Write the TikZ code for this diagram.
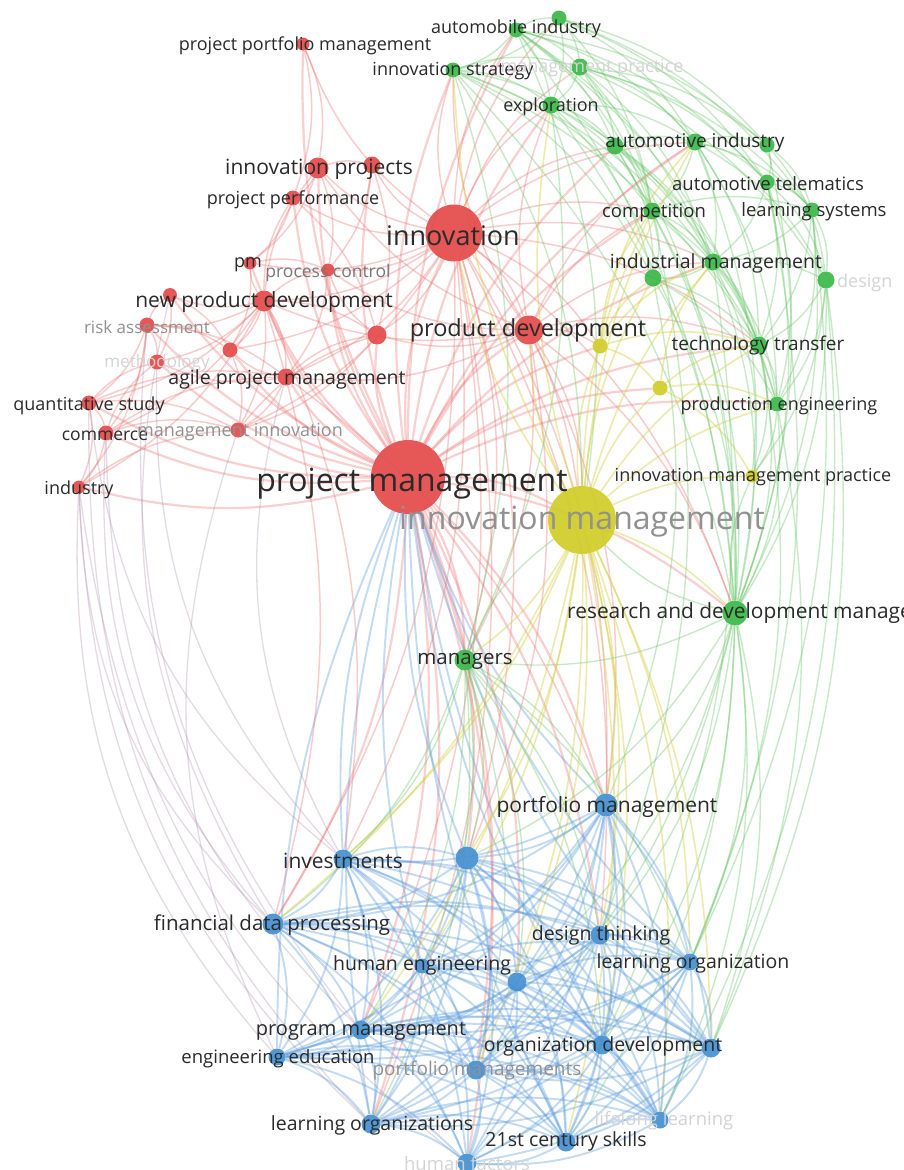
\documentclass[tikz,border=0pt]{standalone}
\usepackage{fontspec}
\setmainfont{Open Sans}
\pgfdeclarelayer{links}
\pgfsetlayers{links,main}
\definecolor{nred}{RGB}{228,74,74}
\definecolor{ngreen}{RGB}{58,184,72}
\definecolor{nyellow}{RGB}{208,204,40}
\definecolor{nblue}{RGB}{68,144,210}
\definecolor{lred}{RGB}{238,110,110}
\definecolor{lgreen}{RGB}{100,196,100}
\definecolor{lyellow}{RGB}{212,206,60}
\definecolor{lblue}{RGB}{95,158,222}
\definecolor{txt}{RGB}{42,42,42}
\definecolor{txtmid}{RGB}{120,120,120}
\definecolor{txtdim}{RGB}{145,145,145}
\definecolor{txtghost}{RGB}{212,212,212}
\newcommand\sz[1]{\fontsize{#1}{#1}\selectfont}
\begin{document}
\begin{tikzpicture}[x=1pt,y=-1pt,
  ball/.style={circle,inner sep=0pt,draw=none,fill opacity=0.92},
  rball/.style={ball,fill=nred},
  gball/.style={ball,fill=ngreen},
  yball/.style={ball,fill=nyellow},
  bball/.style={ball,fill=nblue},
  lab/.style={inner sep=0pt,text=txt,yshift=-1.5pt},
  midlab/.style={lab,text=txtmid},
  dimlab/.style={lab,text=txtdim},
  ghostlab/.style={lab,text=txtghost},
  hublink/.style={draw=lred,line width=2.2pt,opacity=0.33},
  redlink/.style={draw=lred,line width=1.5pt,opacity=0.35},
  greenlink/.style={draw=lgreen,line width=1.4pt,opacity=0.36},
  yellowlink/.style={draw=lyellow,line width=1.6pt,opacity=0.42},
  bluelink/.style={draw=lblue,line width=1.9pt,opacity=0.38},
  mixlink/.style={draw=lblue!50!lred,line width=1.3pt,opacity=0.3}]
\useasboundingbox (0,0) rectangle (903,1170);
\clip (0,0) rectangle (903,1170);

% ---------- red cluster ----------
\node[rball,minimum size=13pt] (ppm) at (303,44) {};
\node[rball,minimum size=21pt] (ipj) at (318,168) {};
\node[rball,minimum size=17pt] (r1) at (372,165) {};
\node[rball,minimum size=15pt] (pper) at (293,198) {};
\node[rball,minimum size=57pt] (inn) at (454,233) {};
\node[rball,minimum size=13pt] (pmm) at (250,263) {};
\node[rball,minimum size=13pt] (pc) at (328,270) {};
\node[rball,minimum size=14pt] (r2) at (170,295) {};
\node[rball,minimum size=21pt] (npd) at (264,301) {};
\node[rball,minimum size=15pt] (ra) at (147,325) {};
\node[rball,minimum size=15pt] (r3) at (230,350) {};
\node[rball,minimum size=15pt] (meth) at (157,362) {};
\node[rball,minimum size=19pt] (r4) at (377,335) {};
\node[rball,minimum size=29pt] (pd) at (529,330) {};
\node[rball,minimum size=17pt] (apm) at (286,377) {};
\node[rball,minimum size=15pt] (qs) at (89,403) {};
\node[rball,minimum size=15pt] (com) at (106,433) {};
\node[rball,minimum size=15pt] (mi) at (238,430) {};
\node[rball,minimum size=13pt] (ind) at (79,487) {};
\node[rball,minimum size=74pt] (prm) at (408,477) {};

% ---------- green cluster ----------
\node[gball,minimum size=15pt] (ami) at (516,30) {};
\node[gball,minimum size=15pt] (g1) at (559,18) {};
\node[gball,minimum size=15pt] (ist) at (453,70) {};
\node[gball,minimum size=17pt] (mp) at (580,67) {};
\node[gball,minimum size=17pt] (exp) at (551,105) {};
\node[gball,minimum size=17pt] (g2) at (615,146) {};
\node[gball,minimum size=17pt] (ain) at (695,142) {};
\node[gball,minimum size=15pt] (g3) at (767,145) {};
\node[gball,minimum size=15pt] (ate) at (767,182) {};
\node[gball,minimum size=17pt] (cmp) at (652,211) {};
\node[gball,minimum size=15pt] (lsy) at (812,210) {};
\node[gball,minimum size=17pt] (inm) at (713,262) {};
\node[gball,minimum size=17pt] (g4) at (653,278) {};
\node[gball,minimum size=17pt] (dsg) at (826,280) {};
\node[gball,minimum size=17pt] (ttr) at (759,345) {};
\node[gball,minimum size=15pt] (pen) at (777,404) {};
\node[gball,minimum size=25pt] (rdm) at (735,613) {};
\node[gball,minimum size=21pt] (mgr) at (465,660) {};

% ---------- yellow cluster ----------
\node[yball,minimum size=68pt] (ima) at (582,520) {};
\node[yball,minimum size=15pt] (y1) at (600,346) {};
\node[yball,minimum size=15pt] (y2) at (660,388) {};
\node[yball,minimum size=13pt] (imp) at (752,476) {};

% ---------- blue cluster ----------
\node[bball,minimum size=23pt] (pfm) at (606,805) {};
\node[bball,minimum size=19pt] (inv) at (343,859) {};
\node[bball,minimum size=23pt] (b1) at (467,858) {};
\node[bball,minimum size=21pt] (fdp) at (273,924) {};
\node[bball,minimum size=19pt] (dth) at (600,935) {};
\node[bball,minimum size=15pt] (heng) at (422,966) {};
\node[bball,minimum size=19pt] (b2) at (517,982) {};
\node[bball,minimum size=17pt] (lor) at (690,962) {};
\node[bball,minimum size=19pt] (pgm) at (361,1030) {};
\node[bball,minimum size=17pt] (ede) at (277,1057) {};
\node[bball,minimum size=19pt] (odv) at (602,1045) {};
\node[bball,minimum size=19pt] (b3) at (711,1048) {};
\node[bball,minimum size=19pt] (pfms) at (476,1070) {};
\node[bball,minimum size=19pt] (lors) at (371,1124) {};
\node[bball,minimum size=19pt] (c21) at (566,1142) {};
\node[bball,minimum size=17pt] (lll) at (660,1120) {};
\node[bball,minimum size=19pt] (hfa) at (467,1163) {};

% ---------- links ----------
\begin{pgfonlayer}{links}
\fill[white] (0,0) rectangle (903,1170);
\clip (0,0) rectangle (903,1170);
\foreach \b in {ppm,ipj,r1,pper,inn,pmm,pc,r2,npd,ra,r3,meth,r4,pd,apm,qs,com,mi,ind,
  ima,mgr,rdm,pfm,b1,fdp,dth,b2,pgm,pfms,lors,hfa,
  ist,ami,exp,cmp,inm,ttr,y1,y2,g2,ain,pen}
  \draw[hublink] (prm) to[bend left=14] (\b);
% project management towards the lower group
\foreach \b in {inv,heng,lor,ede,odv,c21,lll,b3,pfm,b1,lors}
  \draw[bluelink] (\b) to[bend left=12] (prm);
\foreach \b in {ipj,r1,pper,pmm,pc,npd,r3,r4,pd,apm,mi,ist,ami,exp,g2,ain,cmp,inm,
  ttr,y1,ima,mgr,rdm,pfm,b1,dth,ppm,inv,fdp,pgm,lors,g1,mp}
  \draw[redlink] (inn) to[bend left=16] (\b);
\foreach \a/\b in {pd/npd,pd/r4,pd/apm,pd/ipj,pd/pc,pd/ain,pd/inm,pd/ima,pd/ttr,
  pd/mgr,pd/rdm,pd/y1,pd/cmp,pd/ist,pd/pfm,pd/b1,pd/exp,
  npd/ra,npd/pmm,npd/pc,npd/r2,npd/r3,npd/meth,npd/apm,npd/qs,npd/com,npd/mi,
  npd/ipj,npd/pper,npd/ind,npd/inv,npd/fdp,npd/r4,
  ra/meth,ra/qs,ra/com,ra/r2,ra/apm,ra/ind,ra/r3,
  qs/com,qs/ind,qs/meth,qs/mi,qs/apm,com/ind,com/mi,com/apm,com/meth,ind/mi,
  ppm/ipj,ppm/pper,ipj/pper,ipj/r1,ipj/pmm,ipj/pc,r1/pc,r1/r4,pper/pmm,pper/r4,
  apm/mi,apm/r3,apm/meth,apm/r4,apm/pfm,r2/meth,r2/r3,r3/mi,r4/pc,r4/mi,
  pmm/pc,pmm/r3,pc/apm,mi/r4}
  \draw[redlink] (\a) to[bend left=16] (\b);
% long arcs down the left side
\foreach \a/\b in {ind/lors,ind/ede,ind/fdp,ind/hfa,com/fdp,com/pgm,qs/inv,qs/lors,
  ra/pgm,meth/inv,r2/fdp,mi/ede,apm/inv}
  \draw[mixlink] (\a) to[bend right=22] (\b);
\foreach \a/\b in {ami/g1,ami/ist,ami/mp,ami/exp,ami/g2,ami/ain,ami/cmp,ami/inm,
  ami/ttr,ami/ate,ami/g3,ami/ima,ami/rdm,
  g1/ist,g1/mp,g1/exp,g1/ain,g1/g3,g1/ate,g1/lsy,g1/cmp,
  ist/mp,ist/exp,ist/g2,ist/cmp,ist/inm,ist/g4,ist/ttr,ist/mgr,ist/ima,ist/rdm,
  mp/exp,mp/g2,mp/ain,mp/g3,mp/ate,mp/lsy,mp/cmp,mp/inm,mp/dsg,mp/rdm,
  exp/g2,exp/ain,exp/cmp,exp/inm,exp/g4,exp/rdm,
  g2/ain,g2/cmp,g2/inm,g2/g4,g2/ttr,g2/pen,g2/rdm,
  ain/g3,ain/ate,ain/cmp,ain/lsy,ain/inm,ain/dsg,ain/ttr,ain/pen,ain/rdm,
  g3/ate,g3/lsy,g3/dsg,g3/rdm,
  ate/lsy,ate/inm,ate/dsg,ate/ttr,ate/rdm,ate/pen,
  cmp/inm,cmp/g4,cmp/ttr,cmp/pen,cmp/rdm,cmp/lsy,
  lsy/dsg,lsy/inm,lsy/ttr,lsy/rdm,lsy/pen,
  inm/g4,inm/dsg,inm/ttr,inm/pen,inm/rdm,inm/imp,
  g4/ttr,g4/pen,g4/rdm,dsg/ttr,dsg/pen,dsg/rdm,dsg/imp,
  ttr/pen,ttr/rdm,ttr/imp,pen/rdm,pen/imp,
  rdm/mgr,rdm/pfm,rdm/b1,rdm/dth,rdm/lor,rdm/odv,rdm/b3,rdm/lll,rdm/c21,rdm/b2,
  rdm/imp,rdm/ima,rdm/pfms,
  mgr/pfm,mgr/inv,mgr/b1,mgr/fdp,mgr/dth,mgr/heng,mgr/b2,mgr/pgm,mgr/odv,mgr/lors,
  mgr/ima,mgr/lor,mgr/pfms,
  lsy/lor,dsg/b3,ate/lor,dsg/lll,pen/b3,ttr/lor,inm/odv,cmp/dth,g4/pfm,exp/mgr}
  \draw[greenlink] (\a) to[bend left=16] (\b);
\foreach \b in {y1,y2,imp,pd,inn,pfm,b1,dth,lor,odv,b3,c21,lll,mgr,rdm,ttr,pen,inm,
  cmp,ain,exp,ist,b2,heng,inv,fdp,pgm,g4,pfms}
  \draw[yellowlink] (ima) to[bend left=12] (\b);
\foreach \a/\b in {y1/y2,y1/ttr,y1/inm,y1/ain,y1/cmp,y1/g4,y2/ttr,y2/pen,y2/imp,y2/inm}
  \draw[yellowlink] (\a) to[bend left=16] (\b);
\foreach \a [count=\i] in {pfm,inv,b1,fdp,dth,heng,b2,lor,pgm,ede,odv,b3,pfms,lors,c21,lll,hfa}{
  \foreach \b [count=\j] in {pfm,inv,b1,fdp,dth,heng,b2,lor,pgm,ede,odv,b3,pfms,lors,c21,lll,hfa}{
    \ifnum\j>\i \draw[bluelink] (\a) to[bend left=16] (\b); \fi
  }
}
\end{pgfonlayer}

% ---------- labels ----------
\node[lab,font=\sz{18}] (t-ppm) at (305,44) {project portfolio management};
\node[lab,font=\sz{21}] (t-ipj) at (319,168) {innovation projects};
\node[lab,font=\sz{18}] (t-pper) at (293,198) {project performance};
\node[lab,font=\sz{27}] (t-inn) at (453,234) {innovation};
\node[lab,font=\sz{18}] (t-pmm) at (248,263) {pm};
\node[midlab,font=\sz{17.5}] (t-pc) at (328,271) {process control};
\node[lab,font=\sz{21}] (t-npd) at (264,301) {new product development};
\node[dimlab,font=\sz{17}] (t-ra) at (147,326) {risk assessment};
\node[ghostlab,font=\sz{17}] (t-meth) at (157,362) {methodology};
\node[lab,font=\sz{23.5}] (t-pd) at (528,329) {product development};
\node[lab,font=\sz{19.5}] (t-apm) at (287,378) {agile project management};
\node[lab,font=\sz{18}] (t-qs) at (89,404) {quantitative study};
\node[lab,font=\sz{17.5}] (t-com) at (105,434) {commerce};
\node[dimlab,font=\sz{18}] (t-mi) at (240,431) {management innovation};
\node[lab,font=\sz{18}] (t-ind) at (79,488) {industry};
\node[lab,font=\sz{32}] (t-prm) at (412,482) {project management};

\node[lab,font=\sz{18}] (t-ami) at (516,27) {automobile industry};
\node[lab,font=\sz{18}] (t-ist) at (453,70) {innovation strategy};
\node[ghostlab,font=\sz{18}] (t-mp) at (592,67) {management practice};
\node[lab,font=\sz{18}] (t-exp) at (551,105) {exploration};
\node[lab,font=\sz{19}] (t-ain) at (695,141) {automotive industry};
\node[lab,font=\sz{18.5}] (t-ate) at (768,182) {automotive telematics};
\node[lab,font=\sz{18.5}] (t-cmp) at (654,211) {competition};
\node[lab,font=\sz{18.5}] (t-lsy) at (814,210) {learning systems};
\node[lab,font=\sz{19.5}] (t-inm) at (716,262) {industrial management};
\node[ghostlab,font=\sz{18},anchor=west] (t-dsg) at (837,281) {design};
\node[lab,font=\sz{19}] (t-ttr) at (758,344) {technology transfer};
\node[lab,font=\sz{18}] (t-pen) at (779,404) {production engineering};
\node[lab,font=\sz{18}] (t-imp) at (753,476) {innovation management practice};
\node[dimlab,font=\sz{32}] (t-ima) at (582,520) {innovation management};
\node[lab,font=\sz{20.9},anchor=west] (t-rdm) at (567,612) {research and development management};
\node[lab,font=\sz{20.5}] (t-mgr) at (465,660) {managers};

\node[lab,font=\sz{21}] (t-pfm) at (607,805) {portfolio management};
\node[lab,font=\sz{21}] (t-inv) at (343,859) {investments};
\node[lab,font=\sz{20.5}] (t-fdp) at (272,924) {financial data processing};
\node[lab,font=\sz{19.5}] (t-dth) at (601,934) {design thinking};
\node[lab,font=\sz{19.5}] (t-heng) at (422,964) {human engineering};
\node[lab,font=\sz{19.5}] (t-lor) at (693,962) {learning organization};
\node[lab,font=\sz{20}] (t-pgm) at (361,1030) {program management};
\node[lab,font=\sz{18.5}] (t-ede) at (278,1057) {engineering education};
\node[lab,font=\sz{19.5}] (t-odv) at (603,1045) {organization development};
\node[dimlab,font=\sz{19}] (t-pfms) at (477,1069) {portfolio managements};
\node[lab,font=\sz{19.5}] (t-lors) at (372,1124) {learning organizations};
\node[lab,font=\sz{19.5}] (t-c21) at (566,1140) {21st century skills};
\node[ghostlab,font=\sz{18.5}] (t-lll) at (664,1119) {lifelong learning};
\node[ghostlab,font=\sz{18.5}] (t-hfa) at (467,1162) {human factors};
\end{tikzpicture}
\end{document}
